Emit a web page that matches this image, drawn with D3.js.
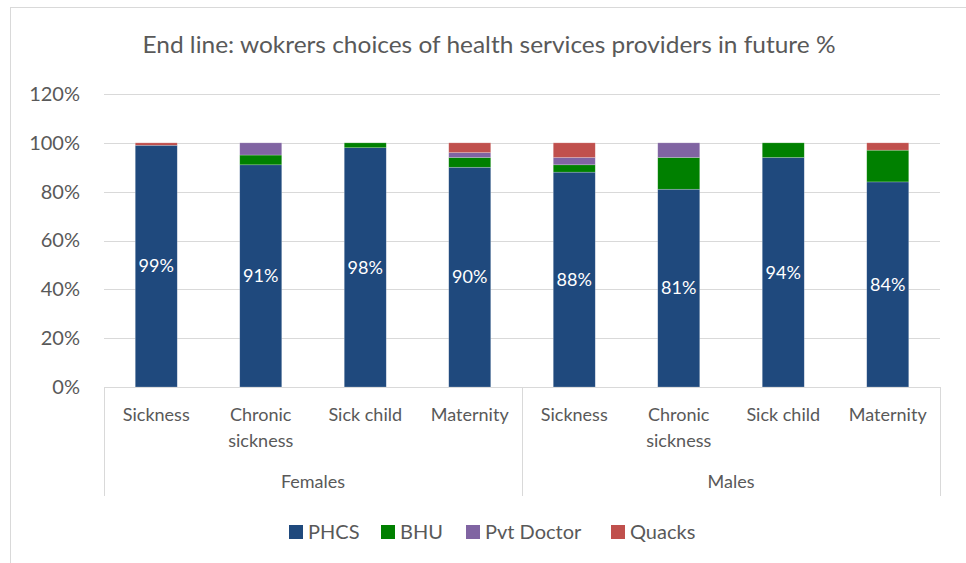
<!DOCTYPE html>
<html>
<head>
<meta charset="utf-8">
<script src="https://cdn.jsdelivr.net/npm/d3@7"></script>
<style>
  html, body { margin: 0; padding: 0; background: #fff; }
  svg { display: block; font-family: Lato, "Open Sans", sans-serif; }
</style>
</head>
<body>
<svg id="chart" width="966" height="563"></svg>
<script>
// Categories (two-level axis: group / item)
const groups = ["Females", "Males"];
const items = ["Sickness", "Chronic sickness", "Sick child", "Maternity"];
const itemLines = [["Sickness"], ["Chronic", "sickness"], ["Sick child"], ["Maternity"]];

// Series values in %, order: Females x4, Males x4
const seriesNames = ["PHCS", "BHU", "Pvt Doctor", "Quacks"];
const phcs      = [99, 91, 98, 90, 88, 81, 94, 84];
const bhu       = [0, 4, 2, 4, 3, 13, 6, 13];
const pvtDoctor = [0, 5, 0, 2, 3, 6, 0, 0];
const quacks    = [1, 0, 0, 4, 6, 0, 0, 3];

const yTicks = [0, 20, 40, 60, 80, 100, 120];
const colors = ["#1F497D", "#008000", "#8064A2", "#C0504D"];

const svg = d3.select("#chart");
const W = 966, H = 563;
const plotLeft = 104, plotRight = 940, plotTop = 94, plotBottom = 387;

// outer chart frame
svg.append("rect").attr("x", 10.5).attr("y", 7.5)
  .attr("width", W).attr("height", H)
  .attr("fill", "none").attr("stroke", "#D9D9D9").attr("stroke-width", 1);

// title
svg.append("text").attr("x", 489).attr("y", 53)
  .attr("text-anchor", "middle").attr("fill", "#595959")
  .attr("font-size", 23).attr("textLength", 693).attr("lengthAdjust", "spacingAndGlyphs")
  .text("End line: wokrers choices of health services providers in future %");

const keys = d3.range(8);
const x = d3.scaleBand().domain(keys).range([plotLeft, plotRight]).paddingInner(0).paddingOuter(0);
const y = d3.scaleLinear().domain([0, 120]).range([plotBottom, plotTop]);

// gridlines
svg.append("g").selectAll("line").data(yTicks).join("line")
  .attr("x1", plotLeft).attr("x2", plotRight)
  .attr("y1", d => Math.round(y(d)) + 0.5).attr("y2", d => Math.round(y(d)) + 0.5)
  .attr("stroke", "#D9D9D9").attr("stroke-width", 1);

// y axis labels
const yAxis = d3.axisLeft(y).tickValues(yTicks).tickFormat(d => d + "%").tickSize(0).tickPadding(24);
const ya = svg.append("g").attr("transform", `translate(${plotLeft},0)`).call(yAxis);
ya.select(".domain").remove();
ya.selectAll("text").attr("font-size", 20).attr("fill", "#595959").attr("font-family", "Lato, sans-serif");

// stacked bars
const rows = keys.map(i => ({ i, PHCS: phcs[i], BHU: bhu[i], "Pvt Doctor": pvtDoctor[i], Quacks: quacks[i] }));
const stacked = d3.stack().keys(seriesNames)(rows);
const barW = 42;
svg.append("g").selectAll("g").data(stacked).join("g")
  .attr("fill", (d, k) => colors[k])
  .selectAll("rect").data(d => d).join("rect")
  .attr("x", d => x(d.data.i) + x.bandwidth() / 2 - barW / 2)
  .attr("width", barW)
  .attr("y", d => y(d[1]))
  .attr("height", d => y(d[0]) - y(d[1]))
  .attr("stroke", "#ffffff").attr("stroke-opacity", 0.35).attr("stroke-width", 0.6);

// data labels on PHCS segments
svg.append("g").selectAll("text").data(rows).join("text")
  .attr("x", d => x(d.i) + x.bandwidth() / 2)
  .attr("y", d => y(d.PHCS / 2))
  .attr("dy", "0.35em").attr("text-anchor", "middle")
  .attr("fill", "#ffffff").attr("font-size", 18)
  .text(d => d.PHCS + "%");

// category axis frame: group separators
const sepX = [plotLeft, plotLeft + x.bandwidth() * 4, plotRight];
svg.append("g").selectAll("line").data(sepX).join("line")
  .attr("x1", d => Math.round(d) + 0.5).attr("x2", d => Math.round(d) + 0.5)
  .attr("y1", plotBottom).attr("y2", 496)
  .attr("stroke", "#D9D9D9").attr("stroke-width", 1);

// item labels
const itemG = svg.append("g");
keys.forEach(i => {
  const t = itemG.append("text")
    .attr("x", x(i) + x.bandwidth() / 2).attr("y", 421)
    .attr("text-anchor", "middle").attr("fill", "#595959").attr("font-size", 18);
  itemLines[i % 4].forEach((ln, j) => {
    t.append("tspan").attr("x", x(i) + x.bandwidth() / 2).attr("dy", j === 0 ? 0 : 26).text(ln);
  });
});

// group labels
svg.append("g").selectAll("text").data(groups).join("text")
  .attr("x", (d, g) => x(g * 4) + x.bandwidth() * 2)
  .attr("y", 488).attr("text-anchor", "middle")
  .attr("fill", "#595959").attr("font-size", 18).text(d => d);

// legend
const legendX = [289, 381, 466, 611];
const lg = svg.append("g").selectAll("g").data(seriesNames).join("g")
  .attr("transform", (d, k) => `translate(${legendX[k]},525)`);
lg.append("rect").attr("width", 14).attr("height", 14).attr("fill", (d, k) => colors[k]);
lg.append("text").attr("x", 19).attr("y", 7).attr("dy", "0.36em")
  .attr("fill", "#595959").attr("font-size", 20).text(d => d);
</script>
</body>
</html>
